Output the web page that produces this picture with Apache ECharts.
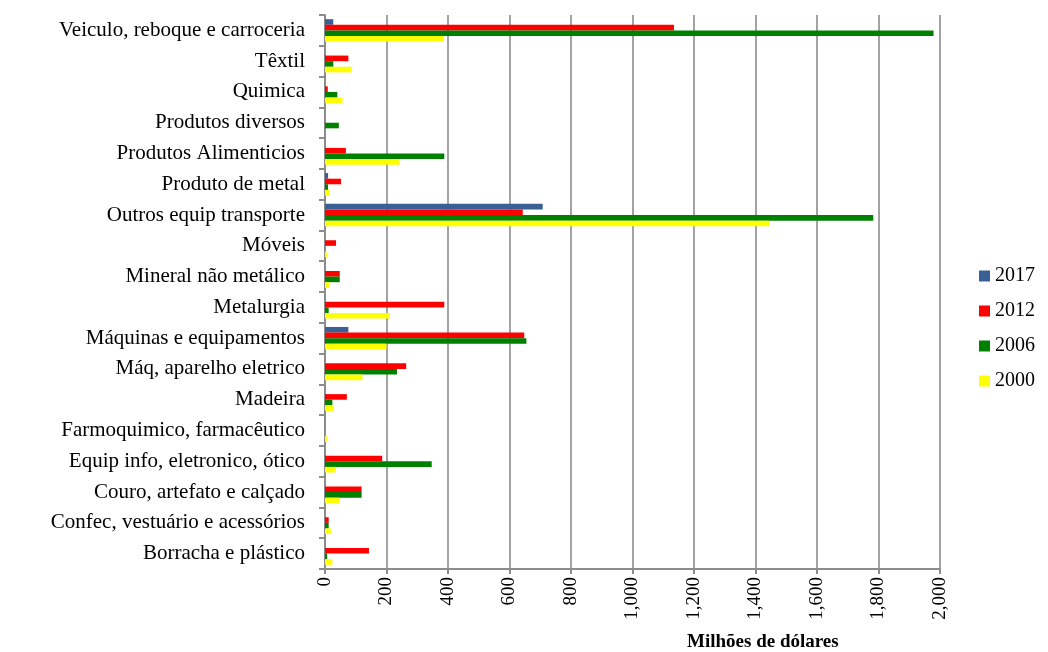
<!DOCTYPE html>
<html>
<head>
<meta charset="utf-8">
<script src="https://cdn.jsdelivr.net/npm/echarts@6/dist/echarts.min.js"></script>
<style>html,body{margin:0;padding:0;background:#fff;}#c{width:1048px;height:652px;}</style>
</head>
<body>
<div id="c"></div>
<script>
// categories listed top to bottom
const categories = [
  "Veiculo, reboque e carroceria",
  "Têxtil",
  "Quimica",
  "Produtos diversos",
  "Produtos Alimenticios",
  "Produto de metal",
  "Outros equip transporte",
  "Móveis",
  "Mineral não metálico",
  "Metalurgia",
  "Máquinas e equipamentos",
  "Máq, aparelho eletrico",
  "Madeira",
  "Farmoquimico, farmacêutico",
  "Equip info, eletronico, ótico",
  "Couro, artefato e calçado",
  "Confec, vestuário e acessórios",
  "Borracha e plástico"
];
const seriesNames = ["2017", "2012", "2006", "2000"];
const v2017 = [27, 0, 0, 0, 0, 10, 708, 0, 0, 0, 76, 0, 0, 0, 0, 0, 0, 0];
const v2012 = [1135, 76, 9, 0, 68, 52, 643, 36, 48, 388, 648, 264, 71, 0, 186, 119, 12, 143];
const v2006 = [1979, 27, 40, 45, 388, 10, 1783, 0, 48, 12, 655, 234, 24, 0, 347, 119, 12, 7];
const v2000 = [387, 86, 57, 0, 241, 16, 1444, 6, 14, 211, 200, 122, 29, 6, 35, 47, 19, 24];
const xTicks = [0, 200, 400, 600, 800, 1000, 1200, 1400, 1600, 1800, 2000];
const colors = ["#3A5F95", "#FF0000", "#008000", "#FFFF00"];

const serif = "'Liberation Serif', 'DejaVu Serif', serif";
const chart = echarts.init(document.getElementById('c'), null, {renderer: 'canvas'});
const valuesList = [v2017, v2012, v2006, v2000];
const series = seriesNames.map((n, i) => ({
  name: n,
  type: 'bar',
  data: valuesList[i],
  barWidth: 5.6,
  barGap: '0%',
  itemStyle: {color: colors[i]},
  emphasis: {disabled: true}
}));

chart.setOption({
  animation: false,
  backgroundColor: '#ffffff',
  color: colors,
  grid: {left: 325, right: 108, top: 15, bottom: 83, containLabel: false},
  legend: {
    orient: 'vertical',
    left: 974,
    top: 261,
    data: seriesNames,
    icon: 'rect',
    itemWidth: 11,
    itemHeight: 11,
    itemGap: 15,
    itemStyle: {borderWidth: 0},
    textStyle: {fontFamily: serif, fontSize: 20, color: '#000', padding: [0, 0, 0, 0]}
  },
  xAxis: {
    type: 'value',
    min: xTicks[0],
    max: xTicks[xTicks.length - 1],
    interval: xTicks[1] - xTicks[0],
    axisLine: {show: true, lineStyle: {color: '#8c8c8c', width: 2}},
    axisTick: {show: true, length: 5, lineStyle: {color: '#8c8c8c', width: 2}},
    splitLine: {show: true, lineStyle: {color: '#a3a3a3', width: 2}},
    axisLabel: {
      rotate: 90,
      margin: 8,
      fontFamily: serif,
      fontSize: 19,
      color: '#000',
      formatter: v => v.toLocaleString('en-US')
    }
  },
  yAxis: {
    type: 'category',
    inverse: true,
    data: categories,
    axisLine: {show: true, lineStyle: {color: '#8c8c8c', width: 2}},
    axisTick: {show: true, length: 6, lineStyle: {color: '#8c8c8c', width: 2}},
    axisLabel: {fontFamily: serif, fontSize: 21, color: '#000', margin: 20}
  },
  graphic: [{
    type: 'text',
    left: 687,
    top: 633,
    style: {text: 'Milhões de dólares', font: "bold 19px 'Liberation Serif', serif", fill: '#000'}
  }],
  series: series
});
</script>
</body>
</html>
